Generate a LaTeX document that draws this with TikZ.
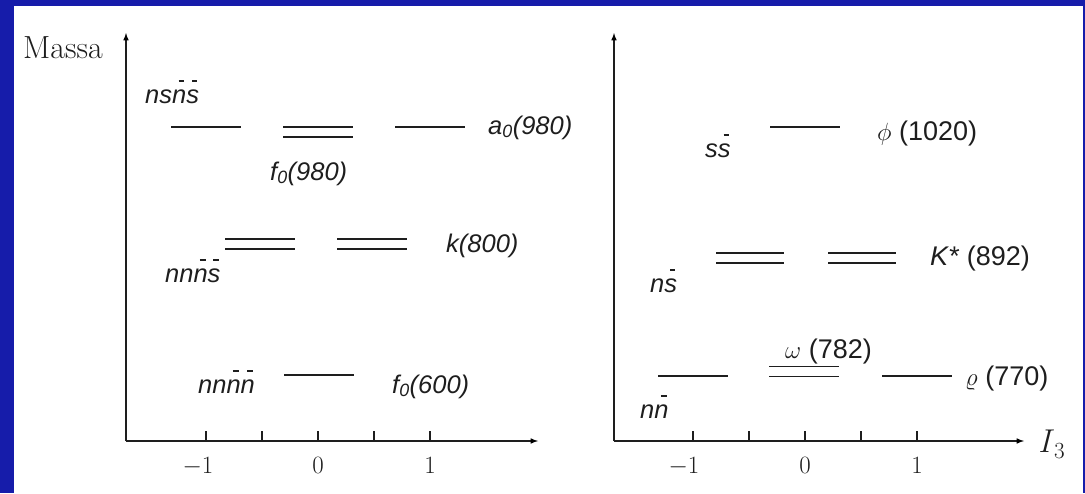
\documentclass[tikz,border=0pt]{standalone}
\usepackage{fontspec}
\usetikzlibrary{arrows}
\newfontfamily\arialfam{Liberation Sans}
\definecolor{slideblue}{RGB}{22,28,170}
\definecolor{ink}{RGB}{30,30,30}
\newcommand{\labfont}{\arialfam\fontsize{27}{30}\selectfont}
\newcommand{\ilabfont}{\arialfam\itshape\fontsize{25.5}{30}\selectfont}
\newcommand{\tickfont}{\fontsize{23}{26}\selectfont}
% bar over a quark letter, drawn as a rule
\newcommand{\qb}[1]{\leavevmode\setbox0\hbox{#1}%
  \rlap{\hbox to \wd0{\hskip .45\wd0\vrule width .42\wd0 height .89em depth -.84em\hss}}\box0}

\begin{document}
\begin{tikzpicture}[x=1pt, y=-1pt,
    axis/.style={line width=1.5pt, draw=ink},
    level/.style={line width=1.6pt, draw=ink},
    twin/.style={level, double, double distance=8.4pt},
    lab/.style={inner sep=0pt, anchor=base west, text=ink, font=\labfont},
    ilab/.style={lab, font=\ilabfont},
    tick/.style={inner sep=0pt, anchor=base, text=ink, font=\tickfont}]
    % slide background
    \useasboundingbox (0,0) rectangle (1085,493);
    \fill[slideblue] (0,0) rectangle (1085,493);
    \fill[white] (14,6) rectangle (1083,493);

    % left panel: axes
    \coordinate (Lo) at (126,441);
    \coordinate (Ly) at (126,33);
    \coordinate (Lx) at (538,441);
    \path[axis]
        (Lo) edge[-latex] (Ly)
        (Lo) edge[-latex] (Lx);
    \node[inner sep=0pt, anchor=base west, text=ink, font=\fontsize{32}{34}\selectfont] (massa) at (23,58) {Massa};
    \foreach \x in {206,262,318,374,430}
        \draw[axis] (\x,441) -- (\x,431);
    \node[tick] (lm1) at (198,473) {$-1$};
    \node[tick] (l0) at (318,473) {$0$};
    \node[tick] (l1) at (430,473) {$1$};

    % left panel: levels
    \draw[level] (206,127) +(-35,0) -- +(35,0);
    \draw[twin] (318,132) +(-35,0) -- +(35,0);
    \draw[level] (430,127) +(-35,0) -- +(35,0);
    \draw[twin] (260,244) +(-35,0) -- +(35,0);
    \draw[twin] (372,244) +(-35,0) -- +(35,0);
    \draw[level] (319,375) +(-35,0) -- +(35,0);

    \node[ilab] (nsns) at (145,103) {ns\qb{n}\qb{s}};
    \node[ilab] (f0b) at (270,180) {f\textsubscript{0}(980)};
    \node[ilab] (a0) at (488,134) {a\textsubscript{0}(980)};
    \node[ilab] (k800) at (446,252) {k(800)};
    \node[ilab] (nnns) at (165,282) {nn\qb{n}\qb{s}};
    \node[ilab] (nnnn) at (198,393) {nn\qb{n}\qb{n}};
    \node[ilab] (f0a) at (392,393) {f\textsubscript{0}(600)};

    % right panel: axes
    \coordinate (Ro) at (614,441);
    \coordinate (Ry) at (614,33);
    \coordinate (Rx) at (1024,441);
    \path[axis]
        (Ro) edge[-latex] (Ry)
        (Ro) edge[-latex] (Rx);
    \node[inner sep=0pt, anchor=base west, text=ink, font=\fontsize{33}{36}\selectfont] (i3) at (1038,452) {\textit{I}\textsubscript{3}};
    \foreach \x in {693,749,805,861,917}
        \draw[axis] (\x,441) -- (\x,431);
    \node[tick] (rm1) at (684,473) {$-1$};
    \node[tick] (r0) at (805,473) {$0$};
    \node[tick] (r1) at (917,473) {$1$};

    % right panel: levels
    \draw[level] (805,127) +(-35,0) -- +(35,0);
    \draw[twin] (750,258) +(-34,0) -- +(34,0);
    \draw[twin] (862,258) +(-34,0) -- +(34,0);
    \draw[level] (693,376) +(-35,0) -- +(35,0);
    \draw[twin] (804,371.5) +(-35,0) -- +(35,0);
    \draw[level] (917,376) +(-35,0) -- +(35,0);

    \node[lab] (phi) at (877,140) {$\phi$ (1020)};
    \node[ilab] (ss) at (705,157) {s\qb{s}};
    \node[lab] (kstar) at (930,265) {\textit{K*} (892)};
    \node[ilab] (ns) at (650,292) {n\qb{s}};
    \node[lab] (omega) at (785,358) {$\omega$ (782)};
    \node[lab] (rho) at (965,385) {$\varrho$ (770)};
    \node[ilab] (nn) at (640,418) {n\qb{n}};
\end{tikzpicture}
\end{document}
